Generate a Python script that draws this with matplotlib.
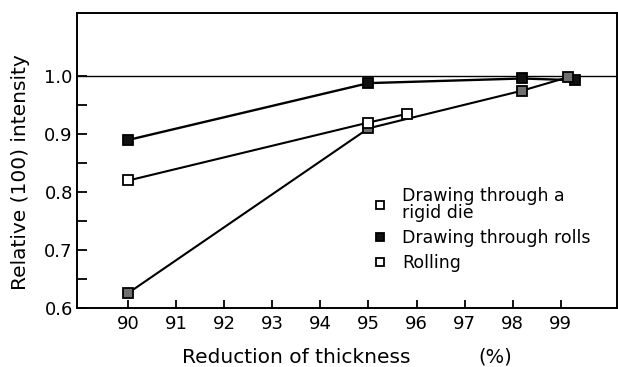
import numpy as np
import matplotlib.pyplot as plt
from matplotlib.lines import Line2D

# reduction of thickness (%) and relative (100) intensity for each process
die_x = [90.0, 95.0, 95.8]
die_y = [0.82, 0.92, 0.935]

rolls_x = [90.0, 95.0, 98.2, 99.3]
rolls_y = [0.89, 0.988, 0.996, 0.993]

rolling_x = [90.0, 95.0, 98.2, 99.15]
rolling_y = [0.626, 0.91, 0.975, 0.998]

xticks = [90, 91, 92, 93, 94, 95, 96, 97, 98, 99]
yticks = [0.6, 0.7, 0.8, 0.9, 1.0]
yminor = [0.65, 0.75, 0.85, 0.95]

fig = plt.figure(figsize=(6.18, 3.67), dpi=100)
ax = fig.add_axes([0.1246, 0.1608, 0.8734, 0.8038])

ax.axhline(1.0, color='k', lw=1.0, zorder=1)

mk = dict(marker='s', markersize=7, markeredgewidth=1.3, markeredgecolor='k')
ax.plot(rolling_x, rolling_y, color='k', lw=1.5, markerfacecolor='#707070', zorder=3, **mk)
ax.plot(die_x, die_y, color='k', lw=1.5, markerfacecolor='white', zorder=4, **mk)
ax.plot(rolls_x, rolls_y, color='k', lw=1.7, markerfacecolor='#111111', zorder=2, **mk)

ax.set_xlim(88.93, 100.17)
ax.set_ylim(0.6, 1.109)
ax.set_xticks(xticks)
ax.set_yticks(yticks)
ax.set_yticks(yminor, minor=True)
ax.set_yticklabels(['0.6', '0.7', '0.8', '0.9', '1.0'])
ax.tick_params(axis='both', which='both', direction='in', width=1.3, labelsize=13, colors='k')
ax.tick_params(axis='y', which='major', length=7, pad=3)
ax.tick_params(axis='y', which='minor', length=7)
ax.tick_params(axis='x', which='major', length=6, pad=5)
for s in ax.spines.values():
    s.set_linewidth(1.4)

ax.set_ylabel('Relative (100) intensity', fontsize=14.5)
ax.yaxis.set_label_coords(-0.087, 0.461)
ax.set_xlabel('Reduction of thickness', fontsize=14.5, va='center')
ax.xaxis.set_label_coords(0.406, -0.167)
ax.text(0.774, -0.167, '(%)', transform=ax.transAxes, fontsize=14, ha='center', va='center')

handles = [
    Line2D([], [], ls='none', marker='s', markersize=6, markeredgewidth=1.3,
           markeredgecolor='k', markerfacecolor='white'),
    Line2D([], [], ls='none', marker='s', markersize=6, markeredgewidth=1.3,
           markeredgecolor='k', markerfacecolor='#111111'),
    Line2D([], [], ls='none', marker='s', markersize=6, markeredgewidth=1.3,
           markeredgecolor='k', markerfacecolor='white'),
]
labels = ['Drawing through a\nrigid die', 'Drawing through rolls', 'Rolling']
leg = ax.legend(handles, labels, loc='upper left', bbox_to_anchor=(0.533, 0.435), frameon=False,
                fontsize=12.5, handlelength=1.0, handletextpad=0.75, labelspacing=0.4,
                borderaxespad=0)
for t in leg.get_texts():
    t.set_linespacing(0.95)

fig.savefig('out.png', dpi=100)
